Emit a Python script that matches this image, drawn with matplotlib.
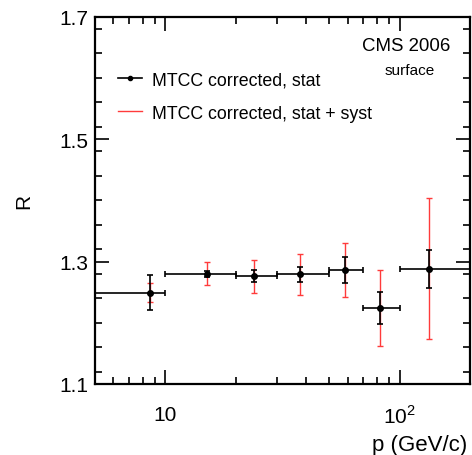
import numpy as np
import matplotlib
matplotlib.use('Agg')
from matplotlib import pyplot as plt
from matplotlib.lines import Line2D
from matplotlib.ticker import FixedLocator, FixedFormatter, MultipleLocator, NullFormatter

plt.rcParams['font.family'] = ['Liberation Sans', 'DejaVu Sans']
plt.rcParams['mathtext.fontset'] = 'custom'
plt.rcParams['mathtext.rm'] = 'Liberation Sans'

# bin centres, bin edges, ratio and errors
p = np.array([8.6, 15.0, 24.0, 37.6, 58.3, 82.6, 134.0])
p_lo = np.array([4.0, 10.0, 20.0, 30.0, 50.0, 70.0, 100.0])
p_hi = np.array([10.0, 20.0, 30.0, 50.0, 70.0, 100.0, 250.0])
R = np.array([1.249, 1.280, 1.276, 1.279, 1.286, 1.224, 1.288])
stat = np.array([0.029, 0.005, 0.0095, 0.012, 0.021, 0.026, 0.031])
tot = np.array([0.016, 0.019, 0.027, 0.034, 0.044, 0.062, 0.115])

fig = plt.figure(figsize=(4.72, 4.56), dpi=100)
ax = fig.add_axes([0.201, 0.156, 0.795, 0.805])
ax.set_xscale('log')

ax.errorbar(p, R, yerr=tot, fmt='none', ecolor='#ff3b3b', elinewidth=1.0,
            capsize=2, capthick=1.0, zorder=2)
ax.errorbar(p, R, yerr=stat, xerr=[p - p_lo, p_hi - p], fmt='o', color='black',
            ms=4, elinewidth=1.2, capsize=2, capthick=1.2, zorder=3)

ax.set_xlim(5, 200)
ax.set_ylim(1.1, 1.7)

ax.xaxis.set_major_locator(FixedLocator([10, 100]))
ax.xaxis.set_major_formatter(FixedFormatter(['10', '$10^2$']))
ax.xaxis.set_minor_locator(FixedLocator([5, 6, 7, 8, 9, 20, 30, 40, 50, 60, 70, 80, 90, 200]))
ax.xaxis.set_minor_formatter(NullFormatter())
ax.yaxis.set_major_locator(FixedLocator([1.1, 1.3, 1.5, 1.7]))
ax.yaxis.set_major_formatter(FixedFormatter(['1.1', '1.3', '1.5', '1.7']))
ax.yaxis.set_minor_locator(MultipleLocator(0.04))

ax.tick_params(which='both', direction='in', top=True, right=True, labelsize=15, width=1.2)
ax.tick_params(which='major', length=10)
ax.tick_params(which='minor', length=5)
ax.tick_params(axis='x', which='major', pad=15)
ax.tick_params(axis='y', which='major', pad=5)
for s in ax.spines.values():
    s.set_linewidth(1.6)

ax.set_ylabel('R', fontsize=15)
ax.yaxis.set_label_coords(-0.165, 0.5)
ax.set_xlabel('p (GeV/c)', fontsize=16, ha='right', va='center')
ax.xaxis.set_label_coords(0.992, -0.166)

ax.text(0.947, 0.921, 'CMS 2006', transform=ax.transAxes, ha='right', va='center', fontsize=13.4)
ax.text(0.84, 0.856, 'surface', transform=ax.transAxes, ha='center', va='center', fontsize=11)

handles = [Line2D([], [], color='black', marker='o', ms=3, lw=1.2),
           Line2D([], [], color='#ff3b3b', lw=1.0)]
ax.legend(handles, ['MTCC corrected, stat', 'MTCC corrected, stat + syst'],
          loc='upper left', bbox_to_anchor=(0.02, 0.894), frameon=False,
          fontsize=12.8, handlelength=1.35, labelspacing=0.9, handletextpad=0.56)

fig.savefig('out.png', dpi=100)
